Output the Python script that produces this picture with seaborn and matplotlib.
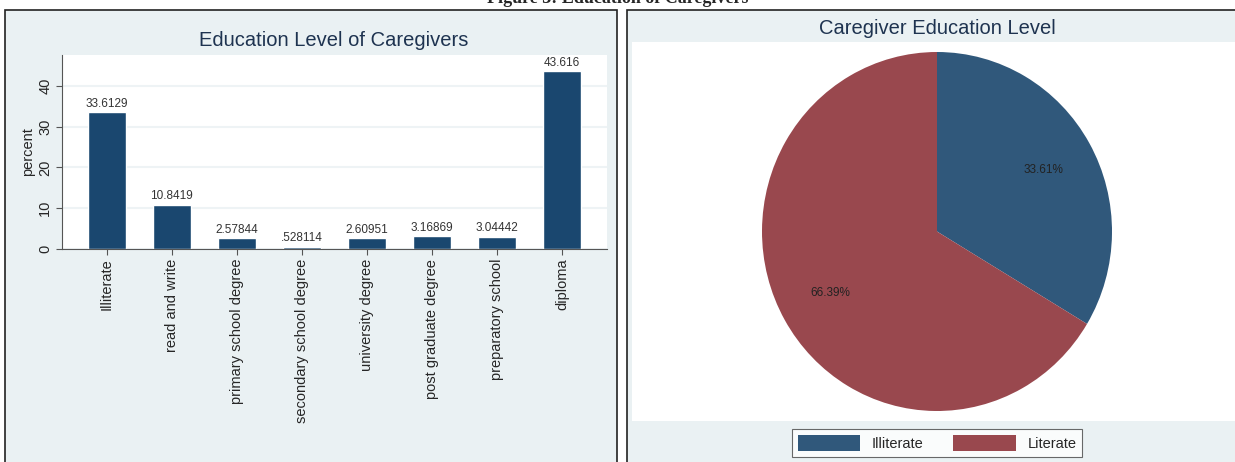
import matplotlib
matplotlib.use("Agg")
import matplotlib.pyplot as plt
import matplotlib.patches as mpatches
import seaborn as sns
import pandas as pd

categories = ["Illiterate", "read and write", "primary school degree", "secondary school degree",
              "university degree", "post graduate degree", "preparatory school", "diploma"]
percent = [33.6129, 10.8419, 2.57844, 0.528114, 2.60951, 3.16869, 3.04442, 43.616]
bar_labels = ["33.6129", "10.8419", "2.57844", ".528114", "2.60951", "3.16869", "3.04442", "43.616"]
y_ticks = [0, 10, 20, 30, 40]

pie_groups = ["Illiterate", "Literate"]
pie_values = [33.61, 66.39]

sns.set_style("white")
plt.rcParams['font.family'] = ['Liberation Sans', 'DejaVu Sans']

W, H = 1235, 462
fig = plt.figure(figsize=(W / 100, H / 100), dpi=100)
fig.patch.set_facecolor("white")

def fx(px):
    return px / W

def fy(py):
    return 1 - py / H

panel_bg = "#EAF1F3"
navy = "#1A476F"
title_col = "#1E3350"

# panels
fig.patches.append(mpatches.Rectangle((fx(5), fy(470)), fx(612), (470 - 10) / H,
                                      transform=fig.transFigure, facecolor=panel_bg,
                                      edgecolor="#222222", linewidth=1.2, zorder=-10))
fig.patches.append(mpatches.Rectangle((fx(627), fy(470)), fx(620), (470 - 10) / H,
                                      transform=fig.transFigure, facecolor=panel_bg,
                                      edgecolor="#222222", linewidth=1.2, zorder=-10))
# pie white plot region
fig.patches.append(mpatches.Rectangle((fx(632), fy(421)), fx(610), (421 - 42) / H,
                                      transform=fig.transFigure, facecolor="white",
                                      edgecolor="none", zorder=-9))

# caption (clipped at top, as in the reference)
fig.text(0.5, fy(3), "Figure 3: Education of Caregivers", ha="center", va="baseline",
         fontsize=13, fontweight="bold", family="Liberation Serif")

# ---------------- bar chart ----------------
ax = fig.add_axes([fx(62), fy(249), fx(607 - 62), (249 - 55) / H])
ax.set_facecolor("white")
df = pd.DataFrame({"category": categories, "percent": percent})
sns.barplot(data=df, x="category", y="percent", color=navy, saturation=1, width=0.58, ax=ax)
ax.set_xlim(-0.69, 7.69)
ax.set_ylim(0, 47.6)
ax.set_yticks(y_ticks)
ax.set_yticklabels([str(t) for t in y_ticks], rotation=90, va="center", fontsize=10.5)
ax.yaxis.grid(True, color="#EEF3F5", linewidth=1.5)
ax.set_axisbelow(True)
ax.set_xticks(range(len(categories)))
ax.set_xticklabels(categories, rotation=90, fontsize=10.5)
ax.set_xlabel("")
ax.set_ylabel("percent", fontsize=10.5, labelpad=2)
for s in ["top", "right"]:
    ax.spines[s].set_visible(False)
for s in ["left", "bottom"]:
    ax.spines[s].set_color("#555555")
    ax.spines[s].set_linewidth(0.8)
ax.tick_params(axis="both", which="both", length=4, width=0.8, color="#555555", direction="out",
               left=True, bottom=True, pad=3)
for i, (v, lab) in enumerate(zip(percent, bar_labels)):
    ax.text(i, v + 0.6, lab, ha="center", va="bottom", fontsize=8.5, color="#333333")
fig.text(fx(334), fy(40), "Education Level of Caregivers", ha="center", va="center",
         fontsize=14.5, color=title_col)

# ---------------- pie chart ----------------
pax = fig.add_axes([fx(762), fy(411), fx(1112 - 762), (411 - 52) / H])
wedges, texts, autotexts = pax.pie(pie_values, colors=["#30587B", "#99484E"], startangle=90,
                                   counterclock=False, autopct="%.2f%%", pctdistance=0.7,
                                   wedgeprops={"linewidth": 0},
                                   textprops={"fontsize": 8.5, "color": "#222222"})
pax.set_aspect("auto")
pax.set_xlim(-1, 1)
pax.set_ylim(-1, 1)
fig.text(fx(937), fy(28), "Caregiver Education Level", ha="center", va="center",
         fontsize=14.5, color=title_col)

leg = fig.legend(wedges, pie_groups, loc="center", bbox_to_anchor=(fx(937), fy(443)), ncol=2,
                 frameon=True, fancybox=False, edgecolor="#444444", fontsize=10.5,
                 handlelength=4.3, handleheight=1.3, columnspacing=2.0, borderpad=0.4)
leg.get_frame().set_linewidth(0.8)

fig.savefig("out.png", dpi=100)
